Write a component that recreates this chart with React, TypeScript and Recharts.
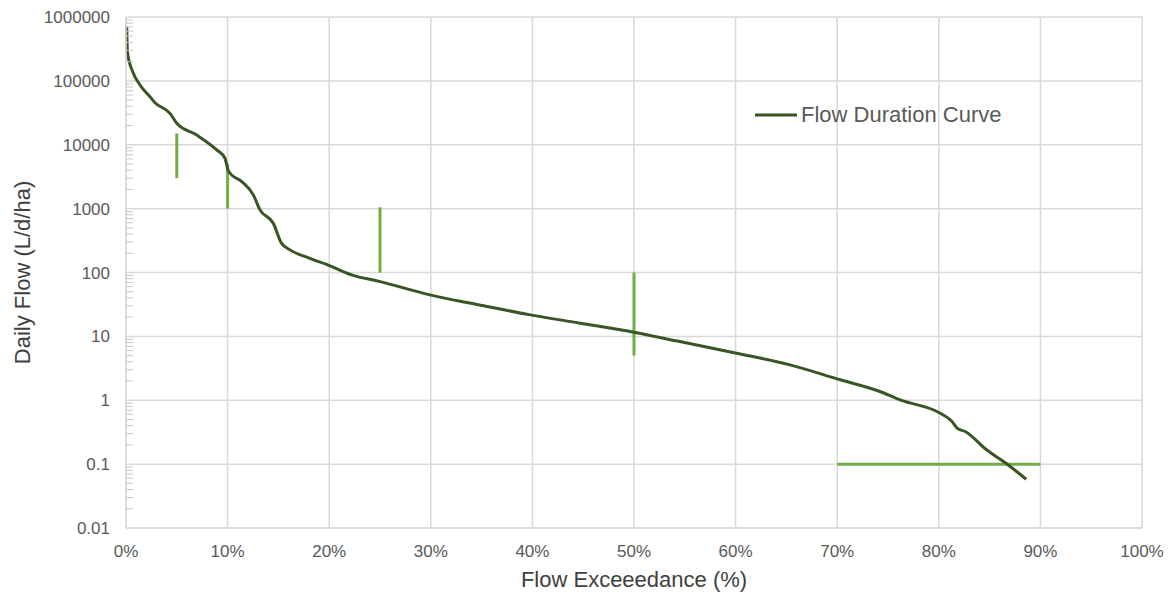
import {
  LineChart,
  Line,
  XAxis,
  YAxis,
  CartesianGrid,
  Legend,
} from "recharts";

// flow duration curve: [exceedance %, L/d/ha]
const exceedance = [
  0.07, 0.15, 0.66, 1.38, 2.36, 2.85, 4.33, 5.0, 6.96, 8.93, 9.74, 10.04, 10.24,
  11.39, 12.53, 13.19, 14.5, 15.3, 16.14, 18.1, 20.08, 22.2, 25, 29.9, 34.8,
  39.8, 44.7, 50.1, 54.5, 60.1, 65.35, 70.3, 74.2, 76.2, 80.1, 81.3, 81.8,
  82.6, 84.7, 86.8, 88.6,
];
const dailyFlow = [
  700000, 275000, 139000, 86000, 56500, 45600, 31000, 21700, 14200, 8300,
  6150, 4030, 3580, 2650, 1640, 955, 590, 288, 226, 167, 127, 92, 72, 44.6,
  31, 21.7, 16.1, 11.5, 8.3, 5.46, 3.58, 2.09, 1.37, 1.01, 0.63, 0.465, 0.366,
  0.324, 0.168, 0.098, 0.058,
];

// green marker segments: [x1, y1, x2, y2]
const markers = [
  [5, 15000, 5, 3000],
  [10, 5000, 10, 1000],
  [25, 1050, 25, 100],
  [50, 100, 50, 5],
  [70, 0.1, 90, 0.1],
];

const xTicks = [0, 10, 20, 30, 40, 50, 60, 70, 80, 90, 100];
const decades = [0.01, 0.1, 1, 10, 100, 1000, 10000, 100000, 1000000];
const minors = decades
  .slice(0, -1)
  .flatMap((d) => [2, 3, 4, 5, 6, 7, 8, 9].map((m) => +(d * m).toPrecision(3)));
const yTicks = [...decades, ...minors].sort((a, b) => a - b);

const curve = exceedance.map((x, i) => ({ x, y: dailyFlow[i] }));

const FONT = "'Liberation Sans', Arial, sans-serif";
const GRID = "#d9d9d9";

const YTick = (props: any) => {
  const { x, y, payload } = props;
  const major = decades.includes(payload.value);
  return (
    <g>
      {!major && (
        <line x1={x + 16} x2={x + 23} y1={y} y2={y} stroke="#c8c8c8" strokeWidth={1} />
      )}
      {major && (
        <text
          x={x}
          y={y}
          dy="0.36em"
          textAnchor="end"
          fontSize={17}
          fontFamily={FONT}
          fill="#595959"
        >
          {String(payload.value)}
        </text>
      )}
    </g>
  );
};

const LegendBox = () => (
  <div style={{ display: "flex", alignItems: "center", fontFamily: FONT }}>
    <svg width={44} height={6}>
      <line x1={0} x2={42} y1={3} y2={3} stroke="#375623" strokeWidth={3} />
    </svg>
    <span style={{ fontSize: 22, color: "#595959", marginLeft: 2 }}>
      Flow Duration Curve
    </span>
  </div>
);

export default function App() {
  return (
    <div style={{ position: "absolute", left: 0, top: 0, background: "#fff" }}>
      <LineChart
        width={1175}
        height={592}
        margin={{ top: 17, right: 33, bottom: 0, left: 0 }}
      >
        <CartesianGrid
          stroke={GRID}
          strokeWidth={1.5}
          horizontalValues={decades}
          verticalValues={xTicks}
        />
        <XAxis
          dataKey="x"
          type="number"
          domain={[0, 100]}
          ticks={xTicks}
          interval={0}
          height={64}
          tickFormatter={(v: number) => `${v}%`}
          tick={{ fontSize: 17, fill: "#595959", fontFamily: FONT }}
          tickLine={false}
          tickSize={0}
          tickMargin={17}
          axisLine={{ stroke: GRID, strokeWidth: 1.5 }}
          label={{
            value: "Flow Exceeedance (%)",
            position: "insideBottom",
            offset: 5,
            style: { fontSize: 22, fill: "#404040", fontFamily: FONT },
          }}
        />
        <YAxis
          dataKey="y"
          type="number"
          scale="log"
          domain={[0.01, 1000000]}
          allowDataOverflow
          ticks={yTicks}
          interval={0}
          width={126}
          tick={<YTick />}
          tickLine={false}
          tickSize={0}
          tickMargin={16}
          axisLine={{ stroke: GRID, strokeWidth: 1.5 }}
          label={{
            value: "Daily Flow (L/d/ha)",
            angle: -90,
            position: "insideLeft",
            offset: 22,
            style: { fontSize: 22, fill: "#404040", fontFamily: FONT, textAnchor: "middle" },
          }}
        />
        <Legend
          layout="vertical"
          align="center"
          verticalAlign="middle"
          content={<LegendBox />}
          wrapperStyle={{ left: 755, top: 102, width: "auto", height: "auto" }}
        />
        {markers.map(([x1, y1, x2, y2], i) => (
          <Line
            key={i}
            data={[
              { x: x1, y: y1 },
              { x: x2, y: y2 },
            ]}
            dataKey="y"
            type="linear"
            stroke="#70ad47"
            strokeWidth={3}
            dot={false}
            activeDot={false}
            legendType="none"
            isAnimationActive={false}
          />
        ))}
        <Line
          data={curve}
          dataKey="y"
          name="Flow Duration Curve"
          type="monotone"
          stroke="#375623"
          strokeWidth={3}
          dot={false}
          activeDot={false}
          isAnimationActive={false}
        />
      </LineChart>
    </div>
  );
}
